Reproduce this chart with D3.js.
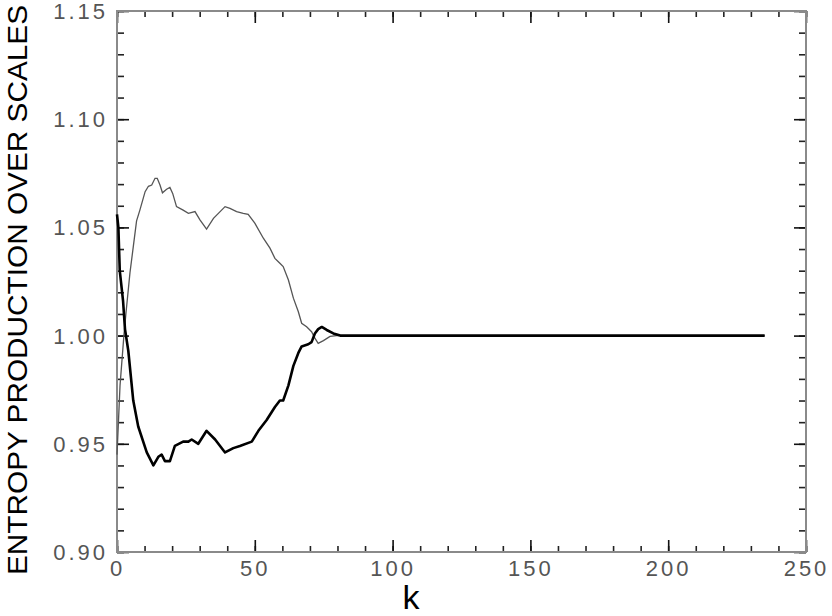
<!DOCTYPE html>
<html><head><meta charset="utf-8">
<script src="https://cdn.jsdelivr.net/npm/d3@7/dist/d3.min.js"></script>
<style>body{margin:0;background:#fff;} svg{display:block;}</style>
</head><body>
<svg id="c" width="832" height="616"></svg>
<script>
// ---- data ----
const kThick = [0,0.5,1,2.2,2.9,4.1,5.9,7.7,10.8,13.2,15,16.2,17.4,19.2,21,24,25.9,27.1,29.5,32.5,35.6,39.2,42.2,44.6,48.9,51.3,54.3,57.3,59.1,60.3,62.2,64,65.8,67,69.4,70.6,71.8,73,74.3,76.1,78.5,81,100,150,200,235];
const vThick = [1.056,1.05,1.030,1.016,1.003,0.993,0.970,0.958,0.946,0.940,0.944,0.945,0.942,0.942,0.949,0.951,0.951,0.952,0.950,0.956,0.952,0.946,0.948,0.949,0.951,0.956,0.961,0.967,0.970,0.970,0.977,0.986,0.992,0.995,0.996,0.997,1.001,1.003,1.004,1.0026,1.001,1.000,1.000,1.000,1.000,1.000];
const kThin = [0,1.1,2.5,3.3,4.7,5.9,7.1,8.3,10.2,11.4,12.6,13.8,14.6,15.6,16.5,18,19.2,20.2,21.6,24,25.9,28.3,30.1,32.5,35,39.2,41,43.4,45.8,47.6,50,53.1,55.5,57.3,59.1,60.3,62.2,64,65.8,67,68.8,70.6,71.8,73,74.9,77.3,79.7,100,150,200,235];
const vThin = [0.945,0.977,1.0,1.011,1.029,1.041,1.053,1.058,1.0665,1.069,1.0696,1.0727,1.0727,1.0696,1.066,1.0676,1.0685,1.0657,1.0596,1.058,1.0565,1.0573,1.0535,1.0492,1.0542,1.0596,1.0588,1.0573,1.0565,1.056,1.052,1.045,1.0404,1.0357,1.0334,1.0319,1.0257,1.0173,1.011,1.0057,1.0041,1.0018,0.9988,0.9964,0.9977,0.9996,1.000,1.000,1.000,1.000,1.000];
const xTicks = [0,50,100,150,200,250];
const yTicks = [0.90,0.95,1.00,1.05,1.10,1.15];
const xMinor = d3.range(0,251,10);
const yMinor = d3.range(0,26).map(i=>+(0.90+i*0.01).toFixed(2));
const xTitle = "k";
const yTitle = "ENTROPY PRODUCTION OVER SCALES";

// ---- layout ----
const L=117, R=806, T=11, B=552;
const svg = d3.select("#c");
const x = d3.scaleLinear().domain([0,250]).range([L,R]);
const y = d3.scaleLinear().domain([0.90,1.15]).range([B,T]);

function styleAxis(g, col){
  g.select(".domain").remove();
  g.selectAll(".tick line").attr("stroke",col).attr("stroke-width",1.6);
}
// minor ticks
svg.append("g").attr("transform",`translate(0,${B})`).call(d3.axisBottom(x).tickValues(xMinor).tickSize(-6).tickFormat("")).call(g=>styleAxis(g,"#222"));
svg.append("g").attr("transform",`translate(0,${T})`).call(d3.axisTop(x).tickValues(xMinor).tickSize(-6).tickFormat("")).call(g=>styleAxis(g,"#222"));
svg.append("g").attr("transform",`translate(${L},0)`).call(d3.axisLeft(y).tickValues(yMinor).tickSize(-7).tickFormat("")).call(g=>styleAxis(g,"#222"));
svg.append("g").attr("transform",`translate(${R},0)`).call(d3.axisRight(y).tickValues(yMinor).tickSize(-7).tickFormat("")).call(g=>styleAxis(g,"#222"));
// major ticks + labels
const fontF = "'Liberation Sans', Arial, sans-serif";
const gx = svg.append("g").attr("transform",`translate(0,${B})`).call(d3.axisBottom(x).tickValues(xTicks).tickSize(-12).tickFormat(d3.format("d")));
styleAxis(gx,"#111");
gx.selectAll("text").attr("font-family",fontF).attr("font-size",22).attr("letter-spacing",3).attr("fill","#555").attr("y",8).attr("dy","0.71em");
svg.append("g").attr("transform",`translate(0,${T})`).call(d3.axisTop(x).tickValues(xTicks).tickSize(-12).tickFormat("")).call(g=>styleAxis(g,"#111"));
const gy = svg.append("g").attr("transform",`translate(${L},0)`).call(d3.axisLeft(y).tickValues(yTicks).tickSize(-12).tickFormat(d3.format(".2f")));
styleAxis(gy,"#111");
gy.selectAll("text").attr("font-family",fontF).attr("font-size",22).attr("letter-spacing",3).attr("fill","#555").attr("x",-9).attr("dy","0.0em").attr("dominant-baseline","central");
svg.append("g").attr("transform",`translate(${R},0)`).call(d3.axisRight(y).tickValues(yTicks).tickSize(-12).tickFormat("")).call(g=>styleAxis(g,"#111"));

// frame
svg.append("rect").attr("x",L).attr("y",T).attr("width",R-L).attr("height",B-T)
  .attr("fill","none").attr("stroke","#8a8a8a").attr("stroke-width",2);

// lines
const line = d3.line().x(d=>x(d[0])).y(d=>y(d[1]));
svg.append("path").datum(kThin.map((k,i)=>[k,vThin[i]])).attr("d",line)
  .attr("fill","none").attr("stroke","#555").attr("stroke-width",1.3);
svg.append("path").datum(kThick.map((k,i)=>[k,vThick[i]])).attr("d",line)
  .attr("fill","none").attr("stroke","#000").attr("stroke-width",2.6).attr("stroke-linejoin","round");

// titles
svg.append("text").attr("x",411).attr("y",609).attr("text-anchor","middle")
  .attr("font-family",fontF).attr("font-size",34).attr("fill","#000").text(xTitle);
svg.append("text").attr("transform","translate(27,290) rotate(-90)").attr("text-anchor","middle")
  .attr("font-family",fontF).attr("font-size",27).attr("fill","#000")
  .attr("textLength",570).attr("lengthAdjust","spacingAndGlyphs").text(yTitle);
</script>
</body></html>
